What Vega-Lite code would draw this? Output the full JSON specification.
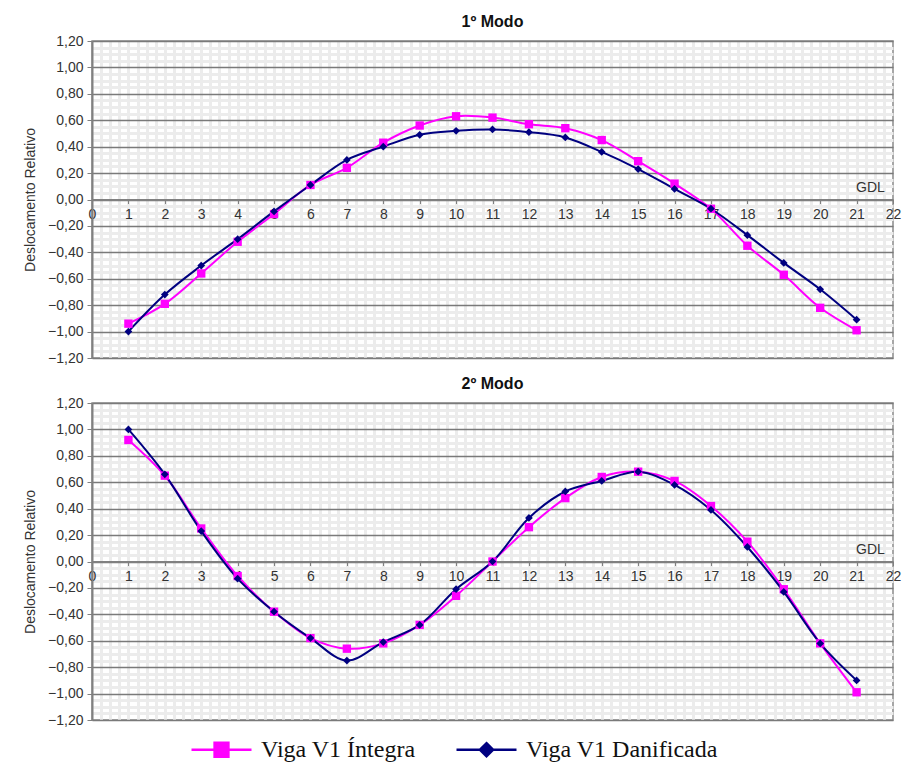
{
  "$schema": "https://vega.github.io/schema/vega-lite/v6.json",
  "background": "white",
  "padding": {"left": 22, "top": 13, "right": 4, "bottom": 0},
  "config": {
    "font": "Liberation Sans",
    "view": {"stroke": "#8a8a8a", "strokeWidth": 1.5},
    "title": {"font": "Liberation Sans", "fontSize": 16, "fontWeight": "bold", "color": "#111", "offset": 0},
    "axis": {"labelFont": "Liberation Sans", "titleFont": "Liberation Sans"}
  },
  "datasets": {
    "modos": [
      {"modo": "1º Modo", "serie": "Viga V1 Íntegra", "gdl": 1, "v": -0.94},
      {"modo": "1º Modo", "serie": "Viga V1 Íntegra", "gdl": 2, "v": -0.79},
      {"modo": "1º Modo", "serie": "Viga V1 Íntegra", "gdl": 3, "v": -0.56},
      {"modo": "1º Modo", "serie": "Viga V1 Íntegra", "gdl": 4, "v": -0.32},
      {"modo": "1º Modo", "serie": "Viga V1 Íntegra", "gdl": 5, "v": -0.11},
      {"modo": "1º Modo", "serie": "Viga V1 Íntegra", "gdl": 6, "v": 0.11},
      {"modo": "1º Modo", "serie": "Viga V1 Íntegra", "gdl": 7, "v": 0.24},
      {"modo": "1º Modo", "serie": "Viga V1 Íntegra", "gdl": 8, "v": 0.43},
      {"modo": "1º Modo", "serie": "Viga V1 Íntegra", "gdl": 9, "v": 0.56},
      {"modo": "1º Modo", "serie": "Viga V1 Íntegra", "gdl": 10, "v": 0.63},
      {"modo": "1º Modo", "serie": "Viga V1 Íntegra", "gdl": 11, "v": 0.62},
      {"modo": "1º Modo", "serie": "Viga V1 Íntegra", "gdl": 12, "v": 0.57},
      {"modo": "1º Modo", "serie": "Viga V1 Íntegra", "gdl": 13, "v": 0.54},
      {"modo": "1º Modo", "serie": "Viga V1 Íntegra", "gdl": 14, "v": 0.45},
      {"modo": "1º Modo", "serie": "Viga V1 Íntegra", "gdl": 15, "v": 0.29},
      {"modo": "1º Modo", "serie": "Viga V1 Íntegra", "gdl": 16, "v": 0.12},
      {"modo": "1º Modo", "serie": "Viga V1 Íntegra", "gdl": 17, "v": -0.07},
      {"modo": "1º Modo", "serie": "Viga V1 Íntegra", "gdl": 18, "v": -0.35},
      {"modo": "1º Modo", "serie": "Viga V1 Íntegra", "gdl": 19, "v": -0.57},
      {"modo": "1º Modo", "serie": "Viga V1 Íntegra", "gdl": 20, "v": -0.82},
      {"modo": "1º Modo", "serie": "Viga V1 Íntegra", "gdl": 21, "v": -0.99},
      {"modo": "1º Modo", "serie": "Viga V1 Danificada", "gdl": 1, "v": -1.0},
      {"modo": "1º Modo", "serie": "Viga V1 Danificada", "gdl": 2, "v": -0.72},
      {"modo": "1º Modo", "serie": "Viga V1 Danificada", "gdl": 3, "v": -0.5},
      {"modo": "1º Modo", "serie": "Viga V1 Danificada", "gdl": 4, "v": -0.3},
      {"modo": "1º Modo", "serie": "Viga V1 Danificada", "gdl": 5, "v": -0.09},
      {"modo": "1º Modo", "serie": "Viga V1 Danificada", "gdl": 6, "v": 0.11},
      {"modo": "1º Modo", "serie": "Viga V1 Danificada", "gdl": 7, "v": 0.3},
      {"modo": "1º Modo", "serie": "Viga V1 Danificada", "gdl": 8, "v": 0.4},
      {"modo": "1º Modo", "serie": "Viga V1 Danificada", "gdl": 9, "v": 0.49},
      {"modo": "1º Modo", "serie": "Viga V1 Danificada", "gdl": 10, "v": 0.52},
      {"modo": "1º Modo", "serie": "Viga V1 Danificada", "gdl": 11, "v": 0.53},
      {"modo": "1º Modo", "serie": "Viga V1 Danificada", "gdl": 12, "v": 0.51},
      {"modo": "1º Modo", "serie": "Viga V1 Danificada", "gdl": 13, "v": 0.47},
      {"modo": "1º Modo", "serie": "Viga V1 Danificada", "gdl": 14, "v": 0.36},
      {"modo": "1º Modo", "serie": "Viga V1 Danificada", "gdl": 15, "v": 0.23},
      {"modo": "1º Modo", "serie": "Viga V1 Danificada", "gdl": 16, "v": 0.08},
      {"modo": "1º Modo", "serie": "Viga V1 Danificada", "gdl": 17, "v": -0.07},
      {"modo": "1º Modo", "serie": "Viga V1 Danificada", "gdl": 18, "v": -0.27},
      {"modo": "1º Modo", "serie": "Viga V1 Danificada", "gdl": 19, "v": -0.48},
      {"modo": "1º Modo", "serie": "Viga V1 Danificada", "gdl": 20, "v": -0.68},
      {"modo": "1º Modo", "serie": "Viga V1 Danificada", "gdl": 21, "v": -0.91},
      {"modo": "2º Modo", "serie": "Viga V1 Íntegra", "gdl": 1, "v": 0.92},
      {"modo": "2º Modo", "serie": "Viga V1 Íntegra", "gdl": 2, "v": 0.65},
      {"modo": "2º Modo", "serie": "Viga V1 Íntegra", "gdl": 3, "v": 0.25},
      {"modo": "2º Modo", "serie": "Viga V1 Íntegra", "gdl": 4, "v": -0.11},
      {"modo": "2º Modo", "serie": "Viga V1 Íntegra", "gdl": 5, "v": -0.38},
      {"modo": "2º Modo", "serie": "Viga V1 Íntegra", "gdl": 6, "v": -0.58},
      {"modo": "2º Modo", "serie": "Viga V1 Íntegra", "gdl": 7, "v": -0.66},
      {"modo": "2º Modo", "serie": "Viga V1 Íntegra", "gdl": 8, "v": -0.62},
      {"modo": "2º Modo", "serie": "Viga V1 Íntegra", "gdl": 9, "v": -0.48},
      {"modo": "2º Modo", "serie": "Viga V1 Íntegra", "gdl": 10, "v": -0.26},
      {"modo": "2º Modo", "serie": "Viga V1 Íntegra", "gdl": 11, "v": 0.0},
      {"modo": "2º Modo", "serie": "Viga V1 Íntegra", "gdl": 12, "v": 0.26},
      {"modo": "2º Modo", "serie": "Viga V1 Íntegra", "gdl": 13, "v": 0.48},
      {"modo": "2º Modo", "serie": "Viga V1 Íntegra", "gdl": 14, "v": 0.64},
      {"modo": "2º Modo", "serie": "Viga V1 Íntegra", "gdl": 15, "v": 0.68},
      {"modo": "2º Modo", "serie": "Viga V1 Íntegra", "gdl": 16, "v": 0.61},
      {"modo": "2º Modo", "serie": "Viga V1 Íntegra", "gdl": 17, "v": 0.42},
      {"modo": "2º Modo", "serie": "Viga V1 Íntegra", "gdl": 18, "v": 0.15},
      {"modo": "2º Modo", "serie": "Viga V1 Íntegra", "gdl": 19, "v": -0.21},
      {"modo": "2º Modo", "serie": "Viga V1 Íntegra", "gdl": 20, "v": -0.62},
      {"modo": "2º Modo", "serie": "Viga V1 Íntegra", "gdl": 21, "v": -0.99},
      {"modo": "2º Modo", "serie": "Viga V1 Danificada", "gdl": 1, "v": 1.0},
      {"modo": "2º Modo", "serie": "Viga V1 Danificada", "gdl": 2, "v": 0.66},
      {"modo": "2º Modo", "serie": "Viga V1 Danificada", "gdl": 3, "v": 0.23},
      {"modo": "2º Modo", "serie": "Viga V1 Danificada", "gdl": 4, "v": -0.13},
      {"modo": "2º Modo", "serie": "Viga V1 Danificada", "gdl": 5, "v": -0.38},
      {"modo": "2º Modo", "serie": "Viga V1 Danificada", "gdl": 6, "v": -0.58},
      {"modo": "2º Modo", "serie": "Viga V1 Danificada", "gdl": 7, "v": -0.75},
      {"modo": "2º Modo", "serie": "Viga V1 Danificada", "gdl": 8, "v": -0.61},
      {"modo": "2º Modo", "serie": "Viga V1 Danificada", "gdl": 9, "v": -0.48},
      {"modo": "2º Modo", "serie": "Viga V1 Danificada", "gdl": 10, "v": -0.21},
      {"modo": "2º Modo", "serie": "Viga V1 Danificada", "gdl": 11, "v": 0.0},
      {"modo": "2º Modo", "serie": "Viga V1 Danificada", "gdl": 12, "v": 0.33},
      {"modo": "2º Modo", "serie": "Viga V1 Danificada", "gdl": 13, "v": 0.53},
      {"modo": "2º Modo", "serie": "Viga V1 Danificada", "gdl": 14, "v": 0.61},
      {"modo": "2º Modo", "serie": "Viga V1 Danificada", "gdl": 15, "v": 0.68},
      {"modo": "2º Modo", "serie": "Viga V1 Danificada", "gdl": 16, "v": 0.58},
      {"modo": "2º Modo", "serie": "Viga V1 Danificada", "gdl": 17, "v": 0.39},
      {"modo": "2º Modo", "serie": "Viga V1 Danificada", "gdl": 18, "v": 0.11},
      {"modo": "2º Modo", "serie": "Viga V1 Danificada", "gdl": 19, "v": -0.23},
      {"modo": "2º Modo", "serie": "Viga V1 Danificada", "gdl": 20, "v": -0.62},
      {"modo": "2º Modo", "serie": "Viga V1 Danificada", "gdl": 21, "v": -0.9}
    ]
  },
  "data": {"name": "modos"},
  "spacing": 9,
  "resolve": {"scale": {"color": "shared"}, "legend": {"color": "shared"}},
  "vconcat": [
    {
      "title": "1º Modo",
      "width": 801,
      "height": 317,
      "transform": [{"filter": "datum.modo === '1º Modo'"}],
      "resolve": {"axis": {"x": "independent", "y": "independent"}},
      "layer": [
        {
          "mark": {"type": "point", "opacity": 0},
          "encoding": {
            "x": {"field": "gdl", "type": "quantitative", "scale": {"domain": [0, 22], "nice": false, "zero": false},
              "axis": {"orient": "bottom", "grid": true, "gridColor": "#ececec", "gridWidth": 3, "labels": false, "ticks": false, "domain": false, "title": null,
                "values": [0.25,0.5,0.75,1,1.25,1.5,1.75,2,2.25,2.5,2.75,3,3.25,3.5,3.75,4,4.25,4.5,4.75,5,5.25,5.5,5.75,6,6.25,6.5,6.75,7,7.25,7.5,7.75,8,8.25,8.5,8.75,9,9.25,9.5,9.75,10,10.25,10.5,10.75,11,11.25,11.5,11.75,12,12.25,12.5,12.75,13,13.25,13.5,13.75,14,14.25,14.5,14.75,15,15.25,15.5,15.75,16,16.25,16.5,16.75,17,17.25,17.5,17.75,18,18.25,18.5,18.75,19,19.25,19.5,19.75,20,20.25,20.5,20.75,21,21.25,21.5,21.75]}},
            "y": {"field": "v", "type": "quantitative", "scale": {"domain": [-1.2, 1.2], "nice": false, "zero": false},
              "axis": {"orient": "left", "grid": true, "gridColor": "#ececec", "gridWidth": 3, "labels": false, "ticks": false, "domain": false, "title": null,
                "values": [-1.15,-1.1,-1.05,-0.95,-0.9,-0.85,-0.75,-0.7,-0.65,-0.55,-0.5,-0.45,-0.35,-0.3,-0.25,-0.15,-0.1,-0.05,0.05,0.1,0.15,0.25,0.3,0.35,0.45,0.5,0.55,0.65,0.7,0.75,0.85,0.9,0.95,1.05,1.1,1.15]}}
          }
        },
        {
          "mark": {"type": "line", "interpolate": "catmull-rom", "strokeWidth": 2},
          "encoding": {
            "x": {"field": "gdl", "type": "quantitative", "scale": {"domain": [0, 22], "nice": false, "zero": false},
              "axis": {"orient": "bottom", "offset": -158.5, "values": [0,1,2,3,4,5,6,7,8,9,10,11,12,13,14,15,16,17,18,19,20,21,22], "grid": false,
                "domainColor": "#808080", "domainWidth": 2, "tickColor": "#808080", "tickSize": 4, "labelFontSize": 14, "labelColor": "#333", "labelPadding": 4, "labelFlush": false,
                "title": "GDL", "titleX": 778, "titleY": -8, "titleAlign": "center", "titleBaseline": "alphabetic", "titleFontSize": 14, "titleFontWeight": "normal", "titleColor": "#333"}},
            "y": {"field": "v", "type": "quantitative", "scale": {"domain": [-1.2, 1.2], "nice": false, "zero": false},
              "axis": {"orient": "left", "values": [-1.2,-1,-0.8,-0.6,-0.4,-0.2,0,0.2,0.4,0.6,0.8,1,1.2], "labelExpr": "replace(format(datum.value, '.2f'), '.', ',')",
                "grid": true, "gridColor": "#7a7a7a", "gridWidth": 1.5, "domainColor": "#808080", "domainWidth": 2, "tickColor": "#808080", "tickSize": 5,
                "labelFontSize": 14, "labelColor": "#333", "labelPadding": 4,
                "title": "Deslocamento Relativo", "titleFontSize": 14, "titleFontWeight": "normal", "titleColor": "#333", "titlePadding": 10}},
            "color": {"field": "serie", "type": "nominal", "sort": ["Viga V1 Íntegra", "Viga V1 Danificada"],
              "scale": {"domain": ["Viga V1 Íntegra", "Viga V1 Danificada"], "range": ["#FF00FF", "#000080"]},
              "legend": {"orient": "none", "legendX": 98, "legendY": 677, "direction": "horizontal", "title": null, "padding": 0,
                "labelFont": "Liberation Serif", "labelFontSize": 24, "labelColor": "#111", "labelLimit": 400,
                "symbolSize": 3600, "symbolStrokeWidth": 2.5, "columnPadding": 35, "labelOffset": 8,
                "encode": {"symbols": {"update": {
                  "shape": [{"test": "datum.value === 'Viga V1 Íntegra'", "value": "M-1,0H1M-0.23,-0.23H0.23V0.23H-0.23Z"}, {"value": "M-1,0H1M0,-0.22L0.22,0L0,0.22L-0.22,0Z"}],
                  "fill": [{"test": "datum.value === 'Viga V1 Íntegra'", "value": "#FF00FF"}, {"value": "#000080"}],
                  "stroke": [{"test": "datum.value === 'Viga V1 Íntegra'", "value": "#FF00FF"}, {"value": "#000080"}],
                  "strokeWidth": {"value": 2.5},
                  "opacity": {"value": 1}
                }}}}}
          }
        },
        {
          "transform": [{"filter": "datum.serie === 'Viga V1 Íntegra'"}],
          "mark": {"type": "point", "filled": true, "opacity": 1, "shape": "square", "size": 70},
          "encoding": {
            "x": {"field": "gdl", "type": "quantitative", "axis": null},
            "y": {"field": "v", "type": "quantitative", "axis": null},
            "color": {"field": "serie", "type": "nominal"}
          }
        },
        {
          "transform": [{"filter": "datum.serie === 'Viga V1 Danificada'"}],
          "mark": {"type": "point", "filled": true, "opacity": 1, "shape": "diamond", "size": 60},
          "encoding": {
            "x": {"field": "gdl", "type": "quantitative", "axis": null},
            "y": {"field": "v", "type": "quantitative", "axis": null},
            "color": {"field": "serie", "type": "nominal"}
          }
        }
      ]
    },
    {
      "title": "2º Modo",
      "width": 801,
      "height": 317,
      "transform": [{"filter": "datum.modo === '2º Modo'"}],
      "resolve": {"axis": {"x": "independent", "y": "independent"}},
      "layer": [
        {
          "mark": {"type": "point", "opacity": 0},
          "encoding": {
            "x": {"field": "gdl", "type": "quantitative", "scale": {"domain": [0, 22], "nice": false, "zero": false},
              "axis": {"orient": "bottom", "grid": true, "gridColor": "#ececec", "gridWidth": 3, "labels": false, "ticks": false, "domain": false, "title": null,
                "values": [0.25,0.5,0.75,1,1.25,1.5,1.75,2,2.25,2.5,2.75,3,3.25,3.5,3.75,4,4.25,4.5,4.75,5,5.25,5.5,5.75,6,6.25,6.5,6.75,7,7.25,7.5,7.75,8,8.25,8.5,8.75,9,9.25,9.5,9.75,10,10.25,10.5,10.75,11,11.25,11.5,11.75,12,12.25,12.5,12.75,13,13.25,13.5,13.75,14,14.25,14.5,14.75,15,15.25,15.5,15.75,16,16.25,16.5,16.75,17,17.25,17.5,17.75,18,18.25,18.5,18.75,19,19.25,19.5,19.75,20,20.25,20.5,20.75,21,21.25,21.5,21.75]}},
            "y": {"field": "v", "type": "quantitative", "scale": {"domain": [-1.2, 1.2], "nice": false, "zero": false},
              "axis": {"orient": "left", "grid": true, "gridColor": "#ececec", "gridWidth": 3, "labels": false, "ticks": false, "domain": false, "title": null,
                "values": [-1.15,-1.1,-1.05,-0.95,-0.9,-0.85,-0.75,-0.7,-0.65,-0.55,-0.5,-0.45,-0.35,-0.3,-0.25,-0.15,-0.1,-0.05,0.05,0.1,0.15,0.25,0.3,0.35,0.45,0.5,0.55,0.65,0.7,0.75,0.85,0.9,0.95,1.05,1.1,1.15]}}
          }
        },
        {
          "mark": {"type": "line", "interpolate": "catmull-rom", "strokeWidth": 2},
          "encoding": {
            "x": {"field": "gdl", "type": "quantitative", "scale": {"domain": [0, 22], "nice": false, "zero": false},
              "axis": {"orient": "bottom", "offset": -158.5, "values": [0,1,2,3,4,5,6,7,8,9,10,11,12,13,14,15,16,17,18,19,20,21,22], "grid": false,
                "domainColor": "#808080", "domainWidth": 2, "tickColor": "#808080", "tickSize": 4, "labelFontSize": 14, "labelColor": "#333", "labelPadding": 4, "labelFlush": false,
                "title": "GDL", "titleX": 778, "titleY": -8, "titleAlign": "center", "titleBaseline": "alphabetic", "titleFontSize": 14, "titleFontWeight": "normal", "titleColor": "#333"}},
            "y": {"field": "v", "type": "quantitative", "scale": {"domain": [-1.2, 1.2], "nice": false, "zero": false},
              "axis": {"orient": "left", "values": [-1.2,-1,-0.8,-0.6,-0.4,-0.2,0,0.2,0.4,0.6,0.8,1,1.2], "labelExpr": "replace(format(datum.value, '.2f'), '.', ',')",
                "grid": true, "gridColor": "#7a7a7a", "gridWidth": 1.5, "domainColor": "#808080", "domainWidth": 2, "tickColor": "#808080", "tickSize": 5,
                "labelFontSize": 14, "labelColor": "#333", "labelPadding": 4,
                "title": "Deslocamento Relativo", "titleFontSize": 14, "titleFontWeight": "normal", "titleColor": "#333", "titlePadding": 10}},
            "color": {"field": "serie", "type": "nominal", "sort": ["Viga V1 Íntegra", "Viga V1 Danificada"],
              "scale": {"domain": ["Viga V1 Íntegra", "Viga V1 Danificada"], "range": ["#FF00FF", "#000080"]}}
          }
        },
        {
          "transform": [{"filter": "datum.serie === 'Viga V1 Íntegra'"}],
          "mark": {"type": "point", "filled": true, "opacity": 1, "shape": "square", "size": 70},
          "encoding": {
            "x": {"field": "gdl", "type": "quantitative", "axis": null},
            "y": {"field": "v", "type": "quantitative", "axis": null},
            "color": {"field": "serie", "type": "nominal"}
          }
        },
        {
          "transform": [{"filter": "datum.serie === 'Viga V1 Danificada'"}],
          "mark": {"type": "point", "filled": true, "opacity": 1, "shape": "diamond", "size": 60},
          "encoding": {
            "x": {"field": "gdl", "type": "quantitative", "axis": null},
            "y": {"field": "v", "type": "quantitative", "axis": null},
            "color": {"field": "serie", "type": "nominal"}
          }
        }
      ]
    }
  ]
}
